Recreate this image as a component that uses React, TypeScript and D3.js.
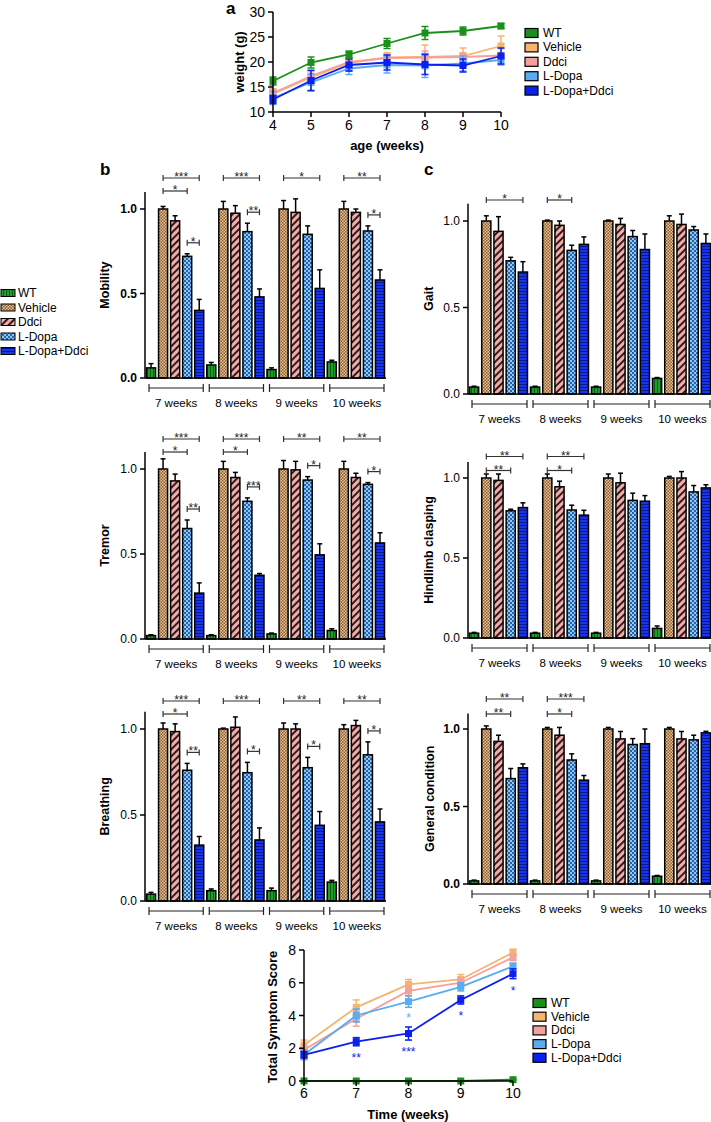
import React from 'react';
import * as d3 from 'd3';

const FONT = '"Liberation Sans", Arial, Helvetica, sans-serif';

// ---------- shared ----------
const GROUPS = ['WT', 'Vehicle', 'Ddci', 'L-Dopa', 'L-Dopa+Ddci'];
const LINE_COLORS = ['#1a8f1a', '#f6b470', '#f5a09b', '#5aabf0', '#0b1ff0'];
const PATTERN_IDS = ['patWT', 'patVeh', 'patDdci', 'patLDopa', 'patLDD'];

// ---------- panel a: body weight ----------
const AGE_WEEKS = [4, 5, 6, 7, 8, 9, 10];
const WEIGHT_TICKS = [10, 15, 20, 25, 30];
const WEIGHT_WT = [16.2, 19.9, 21.5, 23.7, 25.8, 26.2, 27.2];
const WEIGHT_WT_ERR = [0.8, 1.1, 0.7, 1.0, 1.3, 0.8, 0.5];
const WEIGHT_VEH = [13.6, 16.9, 19.8, 20.9, 21.0, 21.2, 23.2];
const WEIGHT_VEH_ERR = [1.0, 1.4, 1.0, 1.0, 2.4, 1.6, 2.0];
const WEIGHT_DDCI = [13.8, 17.2, 20.0, 20.8, 20.9, 21.0, 21.3];
const WEIGHT_DDCI_ERR = [0.8, 1.2, 0.8, 0.8, 1.3, 0.8, 0.6];
const WEIGHT_LDOPA = [12.8, 15.9, 18.7, 19.4, 19.3, 19.7, 20.4];
const WEIGHT_LDOPA_ERR = [1.3, 1.7, 1.2, 1.6, 2.4, 1.5, 1.0];
const WEIGHT_LDD = [12.5, 16.3, 19.4, 19.9, 19.5, 19.3, 21.2];
const WEIGHT_LDD_ERR = [0.8, 2.0, 1.2, 1.5, 2.0, 1.3, 1.6];

// ---------- panels b & c: bar scores (rows = weeks, cols = groups) ----------
const BAR_WEEKS = ['7 weeks', '8 weeks', '9 weeks', '10 weeks'];
const SCORE_TICKS = [0, 0.5, 1.0];

const MOBILITY_MEAN = [
  [0.06, 1.0, 0.93, 0.72, 0.40],
  [0.077, 1.0, 0.975, 0.866, 0.48],
  [0.05, 1.0, 0.98, 0.85, 0.53],
  [0.095, 1.0, 0.98, 0.87, 0.58],
];
const MOBILITY_ERR = [
  [0.025, 0.015, 0.03, 0.015, 0.065],
  [0.015, 0.045, 0.045, 0.05, 0.047],
  [0.01, 0.05, 0.08, 0.05, 0.11],
  [0.01, 0.045, 0.02, 0.03, 0.06],
];
const MOBILITY_SIG = [
  [0, 1, 4, '***', 0], [0, 1, 3, '*', 1], [0, 3, 4, '*', 2],
  [1, 1, 4, '***', 0], [1, 3, 4, '**', 2],
  [2, 1, 4, '*', 0],
  [3, 1, 4, '**', 0], [3, 3, 4, '*', 2],
];

const TREMOR_MEAN = [
  [0.02, 1.0, 0.93, 0.65, 0.27],
  [0.02, 1.0, 0.95, 0.81, 0.375],
  [0.03, 1.0, 0.995, 0.935, 0.495],
  [0.05, 1.0, 0.95, 0.91, 0.565],
];
const TREMOR_ERR = [
  [0.005, 0.06, 0.04, 0.05, 0.06],
  [0.005, 0.045, 0.03, 0.02, 0.01],
  [0.005, 0.05, 0.05, 0.02, 0.065],
  [0.01, 0.045, 0.025, 0.01, 0.06],
];
const TREMOR_SIG = [
  [0, 1, 4, '***', 0], [0, 1, 3, '*', 1], [0, 3, 4, '**', 2],
  [1, 1, 4, '***', 0], [1, 1, 3, '*', 1], [1, 3, 4, '***', 2],
  [2, 1, 4, '**', 0], [2, 3, 4, '*', 2],
  [3, 1, 4, '**', 0], [3, 3, 4, '*', 2],
];

const BREATHING_MEAN = [
  [0.04, 1.0, 0.985, 0.76, 0.325],
  [0.06, 1.0, 1.01, 0.746, 0.355],
  [0.06, 1.0, 1.0, 0.775, 0.44],
  [0.11, 1.0, 1.02, 0.85, 0.46],
];
const BREATHING_ERR = [
  [0.01, 0.035, 0.045, 0.04, 0.05],
  [0.01, 0.005, 0.06, 0.06, 0.07],
  [0.015, 0.035, 0.03, 0.06, 0.08],
  [0.01, 0.025, 0.03, 0.075, 0.075],
];
const BREATHING_SIG = [
  [0, 1, 4, '***', 0], [0, 1, 3, '*', 1], [0, 3, 4, '**', 2],
  [1, 1, 4, '***', 0], [1, 3, 4, '*', 2],
  [2, 1, 4, '**', 0], [2, 3, 4, '*', 2],
  [3, 1, 4, '**', 0], [3, 3, 4, '*', 2],
];

const GAIT_MEAN = [
  [0.04, 1.0, 0.94, 0.77, 0.705],
  [0.04, 1.0, 0.975, 0.83, 0.865],
  [0.04, 1.0, 0.98, 0.91, 0.835],
  [0.09, 1.0, 0.98, 0.948, 0.87],
];
const GAIT_ERR = [
  [0.005, 0.03, 0.085, 0.02, 0.06],
  [0.005, 0.005, 0.025, 0.03, 0.043],
  [0.005, 0.005, 0.035, 0.035, 0.09],
  [0.005, 0.03, 0.06, 0.02, 0.055],
];
const GAIT_SIG = [[0, 1, 4, '*', 0], [1, 1, 3, '*', 0]];

const HINDLIMB_MEAN = [
  [0.03, 1.0, 0.985, 0.795, 0.815],
  [0.03, 1.0, 0.945, 0.80, 0.768],
  [0.03, 1.0, 0.97, 0.86, 0.855],
  [0.06, 1.0, 1.0, 0.913, 0.938],
];
const HINDLIMB_ERR = [
  [0.005, 0.025, 0.04, 0.01, 0.03],
  [0.005, 0.025, 0.035, 0.03, 0.03],
  [0.005, 0.025, 0.06, 0.045, 0.035],
  [0.015, 0.01, 0.04, 0.04, 0.02],
];
const HINDLIMB_SIG = [[0, 1, 4, '**', 0], [0, 1, 3, '**', 1], [1, 1, 4, '**', 0], [1, 1, 3, '*', 1]];

const GENERAL_MEAN = [
  [0.02, 1.0, 0.92, 0.68, 0.75],
  [0.02, 1.0, 0.96, 0.80, 0.67],
  [0.02, 1.0, 0.936, 0.90, 0.905],
  [0.05, 1.0, 0.936, 0.93, 0.975],
];
const GENERAL_ERR = [
  [0.005, 0.02, 0.04, 0.065, 0.025],
  [0.005, 0.01, 0.05, 0.04, 0.03],
  [0.005, 0.01, 0.048, 0.038, 0.095],
  [0.005, 0.01, 0.048, 0.03, 0.01],
];
const GENERAL_SIG = [[0, 1, 4, '**', 0], [0, 1, 3, '**', 1], [1, 1, 4, '***', 0], [1, 1, 3, '*', 1]];

// ---------- bottom: total symptom score ----------
const TSS_WEEKS = [6, 7, 8, 9, 10];
const TSS_TICKS = [0, 2, 4, 6, 8];
const TSS_WT = [0, 0, 0, 0, 0.08];
const TSS_WT_ERR = [0, 0, 0, 0, 0.02];
const TSS_VEH = [2.2, 4.5, 5.9, 6.2, 7.85];
const TSS_VEH_ERR = [0.3, 0.45, 0.3, 0.3, 0.2];
const TSS_DDCI = [1.9, 3.8, 5.5, 6.0, 7.55];
const TSS_DDCI_ERR = [0.3, 0.45, 0.3, 0.3, 0.2];
const TSS_LDOPA = [1.6, 4.0, 4.85, 5.75, 7.0];
const TSS_LDOPA_ERR = [0.3, 0.4, 0.35, 0.25, 0.2];
const TSS_LDD = [1.6, 2.4, 2.9, 4.95, 6.55];
const TSS_LDD_ERR = [0.2, 0.25, 0.4, 0.25, 0.3];
const TSS_STARS_LDOPA = ['', '', '*', '', ''];
const TSS_STARS_LDD = ['', '**', '***', '*', '*'];

// ---------- layout ----------
const B_PANELS = [
  { label: 'Mobility', means: MOBILITY_MEAN, errs: MOBILITY_ERR, sigs: MOBILITY_SIG, x0: 145, x1: 386, y0: 378, y1: 209, labelX: 105, rows: [31, 18], bold: true },
  { label: 'Tremor', means: TREMOR_MEAN, errs: TREMOR_ERR, sigs: TREMOR_SIG, x0: 145, x1: 386, y0: 639, y1: 469, labelX: 105, rows: [30, 17], bold: false },
  { label: 'Breathing', means: BREATHING_MEAN, errs: BREATHING_ERR, sigs: BREATHING_SIG, x0: 145, x1: 386, y0: 901, y1: 729, labelX: 105, rows: [28, 15], bold: false },
  { label: 'Gait', means: GAIT_MEAN, errs: GAIT_ERR, sigs: GAIT_SIG, x0: 468, x1: 712, y0: 394, y1: 221, labelX: 429, rows: [21, 8], bold: false },
  { label: 'Hindlimb clasping', means: HINDLIMB_MEAN, errs: HINDLIMB_ERR, sigs: HINDLIMB_SIG, x0: 468, x1: 712, y0: 638, y1: 478, labelX: 429, rows: [21.5, 7.5], bold: false },
  { label: 'General condition', means: GENERAL_MEAN, errs: GENERAL_ERR, sigs: GENERAL_SIG, x0: 468, x1: 712, y0: 884, y1: 729, labelX: 430, rows: [30, 15], bold: true },
];

function Patterns() {
  return (
    <defs>
      <pattern id="patWT" width="3" height="4" patternUnits="userSpaceOnUse">
        <rect width="3" height="4" fill="#1f9d2c" />
        <rect width="1" height="4" fill="#0c5a14" />
      </pattern>
      <pattern id="patVeh" width="3" height="3" patternUnits="userSpaceOnUse">
        <rect width="3" height="3" fill="#e6c396" />
        <rect width="1.5" height="1.5" fill="#8c5d33" />
        <rect x="1.5" y="1.5" width="1.5" height="1.5" fill="#8c5d33" />
      </pattern>
      <pattern id="patDdci" width="5" height="5" patternUnits="userSpaceOnUse" patternTransform="rotate(45)">
        <rect width="5" height="5" fill="#f7aaa6" />
        <line x1="1" y1="0" x2="1" y2="5" stroke="#111" strokeWidth="1.8" />
      </pattern>
      <pattern id="patLDopa" width="4" height="4" patternUnits="userSpaceOnUse">
        <rect width="4" height="4" fill="#8cc8f6" />
        <rect width="2" height="2" fill="#2a62aa" />
        <rect x="2" y="2" width="2" height="2" fill="#2a62aa" />
      </pattern>
      <pattern id="patLDD" width="4" height="3" patternUnits="userSpaceOnUse">
        <rect width="4" height="3" fill="#1735ec" />
        <rect width="4" height="1" fill="#0b1690" />
      </pattern>
    </defs>
  );
}

function BarPanel({ p }: { p: any }) {
  const y = d3.scaleLinear().domain([0, 1]).range([p.y0, p.y1]);
  const gx = d3.scaleBand().domain(BAR_WEEKS).range([p.x0, p.x1]);
  const bx = d3.scaleBand().domain(GROUPS).range([0, gx.bandwidth()]).paddingInner(0.25).paddingOuter(0.125);
  const bw = bx.bandwidth();
  const cx = (w: number, g: number) => (gx(BAR_WEEKS[w]) as number) + (bx(GROUPS[g]) as number) + bw / 2;
  const yTop = y(1.1);
  const y1 = y(1);
  return (
    <g>
      {p.means.map((row: number[], w: number) =>
        row.map((v: number, g: number) => {
          const x = cx(w, g) - bw / 2;
          const e = p.errs[w][g];
          return (
            <g key={`${w}-${g}`}>
              <line x1={cx(w, g)} x2={cx(w, g)} y1={y(v)} y2={y(v + e)} stroke="#000" strokeWidth={1.5} />
              <line x1={cx(w, g) - 2.5} x2={cx(w, g) + 2.5} y1={y(v + e)} y2={y(v + e)} stroke="#000" strokeWidth={1.5} />
              <rect x={x} y={y(v)} width={bw} height={p.y0 - y(v)} fill={`url(#${PATTERN_IDS[g]})`} stroke="#000" strokeWidth={1.5} />
            </g>
          );
        })
      )}
      <line x1={p.x0} x2={p.x0} y1={p.y0} y2={yTop} stroke="#000" strokeWidth={1.5} />
      <line x1={p.x0} x2={p.x1} y1={p.y0} y2={p.y0} stroke="#000" strokeWidth={1.5} />
      {SCORE_TICKS.map((t) => (
        <g key={t}>
          <line x1={p.x0 - 5} x2={p.x0} y1={y(t)} y2={y(t)} stroke="#000" strokeWidth={1.5} />
          <text x={p.x0 - 8} y={y(t)} textAnchor="end" dominantBaseline="central" fontSize={12} fontWeight={p.bold ? 'bold' : 'normal'} fontFamily={FONT}>{d3.format('.1f')(t)}</text>
        </g>
      ))}
      <text transform={`translate(${p.labelX},${y(0.55)}) rotate(-90)`} textAnchor="middle" dominantBaseline="central" fontSize={12.5} fontWeight="bold" fontFamily={FONT}>{p.label}</text>
      {BAR_WEEKS.map((wk) => {
        const a = (gx(wk) as number) + 4;
        const b = (gx(wk) as number) + gx.bandwidth() - 2;
        const yy = p.y0 + 10;
        return (
          <g key={wk}>
            <line x1={a} x2={b} y1={yy} y2={yy} stroke="#222" strokeWidth={1.2} />
            <line x1={a} x2={a} y1={yy - 4} y2={yy + 4} stroke="#222" strokeWidth={1.2} />
            <line x1={b} x2={b} y1={yy - 4} y2={yy + 4} stroke="#222" strokeWidth={1.2} />
            <text x={(a + b) / 2} y={p.y0 + 29} textAnchor="middle" fontSize={11.5} fontFamily={FONT}>{wk}</text>
          </g>
        );
      })}
      {p.sigs.map((s: any[], i: number) => {
        const [w, ga, gb, lab, row] = s;
        const a = cx(w, ga);
        const b = cx(w, gb);
        const yy = row === 2 ? y(p.means[w][3] + p.errs[w][3]) - 11 : y1 - p.rows[row];
        return (
          <g key={i}>
            <line x1={a} x2={b} y1={yy} y2={yy} stroke="#333" strokeWidth={1.2} />
            <line x1={a} x2={a} y1={yy - 3} y2={yy + 3} stroke="#333" strokeWidth={1.2} />
            <line x1={b} x2={b} y1={yy - 3} y2={yy + 3} stroke="#333" strokeWidth={1.2} />
            <text x={(a + b) / 2} y={yy + 3} textAnchor="middle" fontSize={12} fill="#222" fontFamily={FONT}>{lab}</text>
          </g>
        );
      })}
    </g>
  );
}

function LineLegend({ x, y0, step }: { x: number; y0: number; step: number }) {
  return (
    <g>
      {GROUPS.map((g, i) => (
        <g key={g}>
          <rect x={x} y={y0 + i * step - 4.5} width={13} height={9} fill={LINE_COLORS[i]} stroke="#000" strokeWidth={1.2} />
          <text x={x + 18} y={y0 + i * step} dominantBaseline="central" fontSize={12} fontFamily={FONT}>{g}</text>
        </g>
      ))}
    </g>
  );
}

function LineSeries({ xs, means, errs, x, y, color, cap }: any) {
  const line = d3.line<number>().x((_, i) => x(xs[i])).y((d) => y(d));
  return (
    <g>
      <path d={line(means) as string} fill="none" stroke={color} strokeWidth={1.8} />
      {means.map((m: number, i: number) => {
        const px = x(xs[i]);
        const e = errs[i];
        return (
          <g key={i}>
            {e > 0 && (
              <g stroke={color} strokeWidth={1.5}>
                <line x1={px} x2={px} y1={y(m - e)} y2={y(m + e)} />
                <line x1={px - cap} x2={px + cap} y1={y(m - e)} y2={y(m - e)} />
                <line x1={px - cap} x2={px + cap} y1={y(m + e)} y2={y(m + e)} />
              </g>
            )}
            <rect x={px - 3.5} y={y(m) - 3.5} width={7} height={7} fill={color} />
          </g>
        );
      })}
    </g>
  );
}

function PanelA() {
  const x = d3.scaleLinear().domain([4, 10]).range([273, 501]);
  const y = d3.scaleLinear().domain([10, 30]).range([112, 12]);
  const series = [
    [WEIGHT_WT, WEIGHT_WT_ERR],
    [WEIGHT_VEH, WEIGHT_VEH_ERR],
    [WEIGHT_DDCI, WEIGHT_DDCI_ERR],
    [WEIGHT_LDOPA, WEIGHT_LDOPA_ERR],
    [WEIGHT_LDD, WEIGHT_LDD_ERR],
  ];
  const order = [1, 2, 3, 4, 0];
  return (
    <g>
      {order.map((i) => (
        <LineSeries key={i} xs={AGE_WEEKS} means={series[i][0]} errs={series[i][1]} x={x} y={y} color={LINE_COLORS[i]} cap={3.5} />
      ))}
      <line x1={273} x2={273} y1={y(10)} y2={y(30)} stroke="#000" strokeWidth={1.5} />
      <line x1={273} x2={501} y1={y(10)} y2={y(10)} stroke="#000" strokeWidth={1.5} />
      {WEIGHT_TICKS.map((t) => (
        <g key={t}>
          <line x1={268} x2={273} y1={y(t)} y2={y(t)} stroke="#000" strokeWidth={1.5} />
          <text x={265} y={y(t)} textAnchor="end" dominantBaseline="central" fontSize={14} fontFamily={FONT}>{t}</text>
        </g>
      ))}
      {AGE_WEEKS.map((t) => (
        <g key={t}>
          <line x1={x(t)} x2={x(t)} y1={y(10)} y2={y(10) + 5} stroke="#000" strokeWidth={1.5} />
          <text x={x(t)} y={y(10) + 18} textAnchor="middle" fontSize={14} fontFamily={FONT}>{t}</text>
        </g>
      ))}
      <text x={387} y={150} textAnchor="middle" fontSize={13} fontWeight="bold" fontFamily={FONT}>age (weeks)</text>
      <text transform={`translate(239,${y(20)}) rotate(-90)`} textAnchor="middle" dominantBaseline="central" fontSize={13} fontWeight="bold" fontFamily={FONT}>weight (g)</text>
      <text x={226} y={14} fontSize={17} fontWeight="bold" fontFamily={FONT}>a</text>
      <LineLegend x={525} y0={33} step={14.4} />
    </g>
  );
}

function PanelTSS() {
  const x = d3.scaleLinear().domain([6, 10]).range([304, 513]);
  const y = d3.scaleLinear().domain([0, 8]).range([1081, 950]);
  const series = [
    [TSS_WT, TSS_WT_ERR],
    [TSS_VEH, TSS_VEH_ERR],
    [TSS_DDCI, TSS_DDCI_ERR],
    [TSS_LDOPA, TSS_LDOPA_ERR],
    [TSS_LDD, TSS_LDD_ERR],
  ];
  return (
    <g>
      {[1, 2, 3, 4, 0].map((i) => (
        <LineSeries key={i} xs={TSS_WEEKS} means={series[i][0]} errs={series[i][1]} x={x} y={y} color={LINE_COLORS[i]} cap={3.5} />
      ))}
      {TSS_STARS_LDOPA.map((s, i) => s && (
        <text key={'lb' + i} x={x(TSS_WEEKS[i])} y={y(TSS_LDOPA[i] - TSS_LDOPA_ERR[i]) + 15} textAnchor="middle" fontSize={12} fill={LINE_COLORS[3]} fontFamily={FONT}>{s}</text>
      ))}
      {TSS_STARS_LDD.map((s, i) => s && (
        <text key={'b' + i} x={x(TSS_WEEKS[i])} y={y(TSS_LDD[i] - TSS_LDD_ERR[i]) + 16} textAnchor="middle" fontSize={12} fill={LINE_COLORS[4]} fontFamily={FONT}>{s}</text>
      ))}
      <line x1={304} x2={304} y1={y(0)} y2={y(8)} stroke="#000" strokeWidth={1.5} />
      <line x1={304} x2={513} y1={y(0)} y2={y(0)} stroke="#000" strokeWidth={1.5} />
      {TSS_TICKS.map((t) => (
        <g key={t}>
          <line x1={299} x2={304} y1={y(t)} y2={y(t)} stroke="#000" strokeWidth={1.5} />
          <text x={296} y={y(t)} textAnchor="end" dominantBaseline="central" fontSize={14} fontFamily={FONT}>{t}</text>
        </g>
      ))}
      {TSS_WEEKS.map((t) => (
        <g key={t}>
          <line x1={x(t)} x2={x(t)} y1={y(0)} y2={y(0) + 5} stroke="#000" strokeWidth={1.5} />
          <text x={x(t)} y={y(0) + 17} textAnchor="middle" fontSize={14} fontFamily={FONT}>{t}</text>
        </g>
      ))}
      <text x={408} y={1119} textAnchor="middle" fontSize={13} fontWeight="bold" fontFamily={FONT}>Time (weeks)</text>
      <text transform={`translate(272,1017) rotate(-90)`} textAnchor="middle" dominantBaseline="central" fontSize={13} fontWeight="bold" fontFamily={FONT}>Total Symptom Score</text>
      <LineLegend x={533} y0={1003} step={13.7} />
    </g>
  );
}

function BarLegend() {
  return (
    <g>
      {GROUPS.map((g, i) => (
        <g key={g}>
          <rect x={1} y={293 + i * 14.5 - 3.5} width={14} height={7} fill={`url(#${PATTERN_IDS[i]})`} stroke="#000" strokeWidth={1} />
          <text x={18} y={293 + i * 14.5} dominantBaseline="central" fontSize={12} fontFamily={FONT}>{g}</text>
        </g>
      ))}
    </g>
  );
}

export default function App() {
  return (
    <svg width={711} height={1122} style={{ position: 'absolute', left: 0, top: 0, background: '#fff' }} fontFamily={FONT}>
      <Patterns />
      <rect width={711} height={1122} fill="#fff" />
      <PanelA />
      <text x={100} y={175} fontSize={17} fontWeight="bold" fontFamily={FONT}>b</text>
      <text x={424} y={175} fontSize={17} fontWeight="bold" fontFamily={FONT}>c</text>
      <BarLegend />
      {B_PANELS.map((p) => (
        <BarPanel key={p.label} p={p} />
      ))}
      <PanelTSS />
    </svg>
  );
}
